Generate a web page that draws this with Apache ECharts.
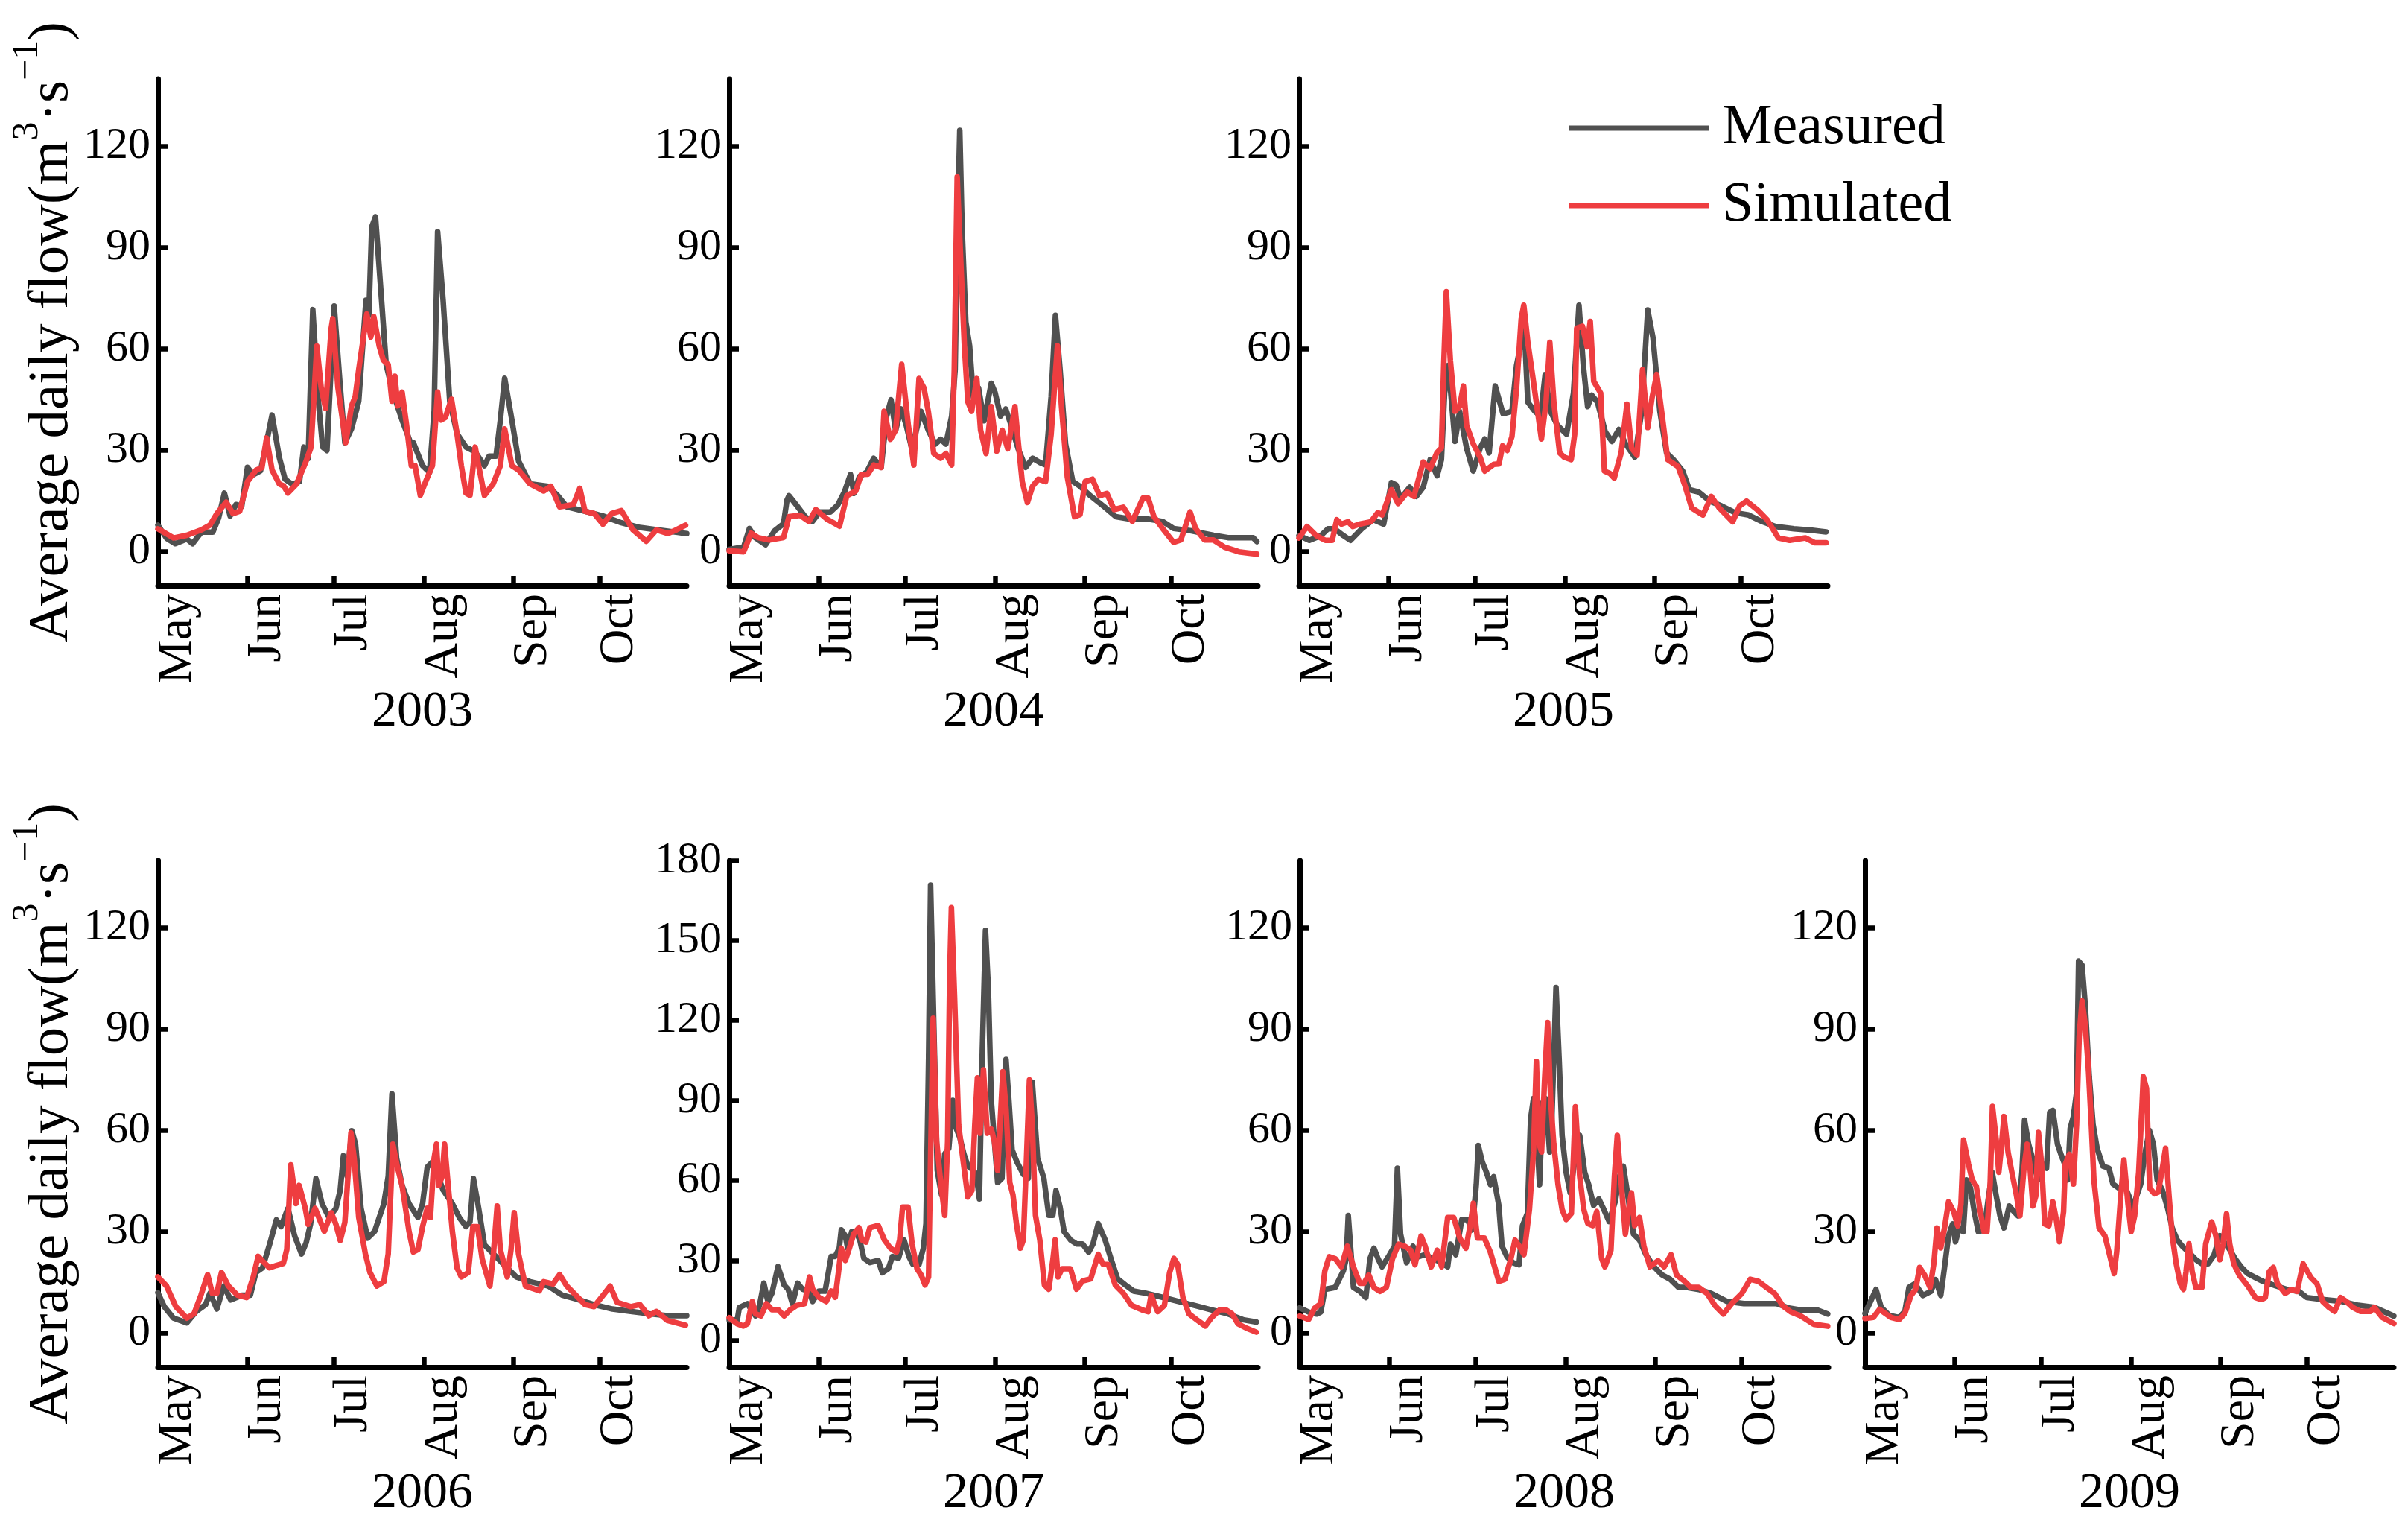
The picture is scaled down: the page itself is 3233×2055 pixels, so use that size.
<!DOCTYPE html>
<html>
<head>
<meta charset="utf-8">
<title>Average daily flow, measured vs simulated</title>
<script src="https://cdn.jsdelivr.net/npm/echarts@6/dist/echarts.min.js"></script>
<style>
  html, body { margin: 0; padding: 0; background: #fff; }
  #chart { width: 3233px; height: 2055px; }
</style>
</head>
<body>
<div id="chart"></div>
<script>
// month names and their first day, counted from 1 May (day 0) to 31 Oct (day 183)
const months = ['May', 'Jun', 'Jul', 'Aug', 'Sep', 'Oct']
const monthStart = [0, 31, 61, 92, 123, 153]
const years = ['2003', '2004', '2005', '2006', '2007', '2008', '2009']
const yTicks = [0, 30, 60, 90, 120]
const yTicks2007 = [0, 30, 60, 90, 120, 150, 180]

// [day from 1 May, flow m3/s]
const measured2003 = [[0,7.9],[3,4],[6,2.4],[10,3.8],[12,2.4],[15,5.8],[19,5.8],[21,10],[23,17.4],[25,10.6],[27,14],[29,13.5],[31,25],[33,22.8],[35.5,24],[37.5,32],[39.5,40.5],[42,28],[44,21.5],[46.5,20],[49,20.8],[50.5,31],[52,27.6],[53.6,71.7],[55.5,45],[57,31],[58.5,30],[61,72.8],[63,50],[64.7,32.3],[67,36.4],[69.5,44.6],[72,74.5],[73,70],[74,96.2],[75.3,99.2],[77.4,74.5],[79,55.4],[81.3,47.3],[84.5,39],[87.7,31.7],[88.4,32.3],[91.6,25.5],[94,23.5],[95.6,41.8],[96.8,94.8],[98.7,74.5],[101,44.6],[103.5,35],[106.6,31],[109.8,29.6],[113,25.5],[114.6,28.3],[117,28.3],[118.5,39],[120,51.4],[122.5,39],[124.8,26.9],[128.8,20.1],[135,19.4],[138.3,16.7],[141.5,13.3],[147.8,12],[154,10.6],[160.4,8.6],[166.8,7.2],[173,6.5],[179.4,5.8],[183,5.4]]
const simulated2003 = [[0,6.8],[5.4,4.1],[10,4.9],[15,6.5],[18,7.9],[20.4,11.3],[23.6,14.7],[26,11.3],[28.3,12],[31,20.8],[34,24.2],[36,24.9],[37.6,33.7],[39.5,24.2],[42,20.1],[43.5,19.5],[45,17.4],[48,20.1],[51,26.2],[53,31],[55,60.9],[56.5,48.6],[58,42.5],[60,66.3],[60.5,69],[62.3,48.6],[65,32.3],[67,43.2],[68.3,46],[69.5,54],[72.3,70.4],[73.7,63.6],[74.7,69.7],[76.6,60.9],[78,56.8],[79.7,55.4],[81,44.6],[82,52],[83,43.2],[84.5,47.3],[86,37.8],[87.7,25.5],[89,25.5],[90.8,16.7],[93,21.5],[95,25.5],[96.8,47.3],[98,39],[99.5,39.8],[101.6,45.2],[103.5,35],[105,25.5],[106.6,17.4],[108,16.7],[109.8,31],[111,25.5],[113,16.7],[116,20.1],[118.5,25.5],[120,36.4],[122.5,25.5],[124.8,24.2],[128.8,20.1],[133.5,18],[136,19.4],[139,13.3],[143.8,14],[146,18.8],[147.8,12],[151,11.3],[154,8.2],[157,11.3],[160.4,12.2],[164.4,6.5],[169,3.1],[172.5,6.5],[176.5,5.4],[179.4,6.5],[182.6,7.9]]

const measured2004 = [[0,0.7],[5,1.4],[7,6.9],[9,4.2],[12.6,2.1],[15.7,6.2],[18.8,8.3],[20,15.3],[20.7,16.6],[23.2,13.9],[26.3,10.4],[28.8,9],[31.3,11.8],[35,11.8],[37.6,13.9],[40,18],[42,22.9],[43.2,17.3],[45,22.2],[47.6,23.6],[50,27.7],[52.6,25],[54.5,40.2],[56,45],[57.6,36],[59.5,42.3],[61.3,37.4],[63.2,30.5],[66.4,41.6],[68.9,36],[71.3,31.9],[73.2,33.3],[75,31.9],[77,40.2],[78.2,54],[79,95.7],[79.8,124.8],[80.6,95.7],[81.9,68],[83.2,61],[84.5,45.8],[86.3,48.5],[88.2,38.8],[90.7,49.9],[92,47.2],[93.9,40.2],[95.7,42.3],[97.6,37.4],[100,30.5],[102.6,25],[105,27.7],[107.6,26.4],[109.5,25.7],[111.4,45.8],[112.9,70],[114.5,54],[116.4,31.9],[118.9,20.8],[121.4,19.4],[125,16.6],[130,13.2],[133.8,10.4],[138.8,9.7],[145,9.7],[150,9],[153.8,6.9],[160,6.2],[167.6,4.9],[172.6,4.2],[181.3,4.2],[182.6,3]]
const simulated2004 = [[0,0.3],[5,0],[7.6,5.5],[10,4.2],[13.9,3.5],[18.8,4.2],[20.7,10.4],[24.5,10.8],[27.6,9],[30,12.5],[33.8,9.7],[38.2,7.6],[40.7,16.6],[43.8,18],[45.7,22.9],[48,23],[50,25.7],[52.6,25],[53.6,41.6],[55.8,33.3],[57.6,36],[59.7,55.5],[62,37.4],[63.9,25.7],[65.7,51.3],[67.4,48.5],[68.9,41.6],[70.8,29.1],[73.2,27.7],[75,29.1],[77,25.7],[77.9,54],[78.9,111],[80,88.8],[81.4,61],[82.6,44.4],[83.9,41.6],[85.7,51.3],[87,36],[88.9,29.1],[90.7,43],[92.6,29.8],[94.5,36],[96.4,30.5],[98.9,43],[100.1,31.9],[101.4,20.8],[103.2,14.6],[105,19.4],[107,21.5],[109.5,20.8],[111.4,34.7],[113.6,61],[115,43],[117,22.2],[119.5,10.4],[121.4,11],[123.2,20.8],[125.7,21.5],[128.2,16.6],[130.7,17.3],[133.2,12.5],[136.4,13.2],[139.5,9],[143.2,15.9],[145,15.9],[147,10.4],[150,6.9],[153.8,2.8],[156.3,3.5],[159.5,11.8],[161.4,6.9],[164.5,3.5],[167.6,3.5],[171.4,1.4],[176.4,0],[182.6,-0.7]]

const measured2005 = [[0,4.8],[3.6,3.4],[7.6,4.8],[10,6.8],[12.3,6.8],[15.4,4.8],[17.8,3.4],[21.7,6.8],[25.7,9.5],[29.3,8.2],[32,20.5],[33.6,19.8],[35.1,15.7],[38.3,19.1],[40.6,16.4],[43,19.1],[45.4,27.3],[47.8,22.5],[49.3,27.3],[50.4,47],[51.7,55.2],[54,32.7],[55.6,41.6],[58,30.7],[60.3,23.9],[62.7,30.7],[64.3,33.4],[65.8,29.3],[67.9,49.1],[70.6,40.9],[73.7,41.6],[75.3,55.2],[76.9,62],[78,66],[79.2,44.3],[81.6,41.6],[83.6,40.2],[85.2,52.5],[87,41.6],[89.4,37.5],[92.6,34.8],[95,47],[96.9,73],[98.4,55.2],[99.9,43],[101.3,46.4],[103.3,44.3],[106,35.5],[108.3,32.7],[110.7,36.2],[113,32],[116.2,28],[118.6,41.6],[120.7,71.6],[122.5,63.4],[124.9,41.6],[127.2,29.3],[129.6,27.3],[132.8,23.9],[135.1,18.4],[138.3,17.7],[142.2,15],[146.2,13.6],[150.9,11.6],[155.6,10.9],[160.4,8.9],[165,7.5],[171.3,6.8],[177.6,6.4],[182.4,5.9]]
const simulated2005 = [[0,4.1],[2.8,7.5],[6,4.8],[9.1,3.4],[11.5,3.4],[13.1,9.5],[14.7,8.2],[17,8.9],[18.6,7.5],[21,8.2],[24.9,8.9],[27.3,11.6],[28.8,10.9],[32,18.4],[34.3,14.3],[37.5,17.7],[39.8,16.4],[43,26.6],[45.4,24.6],[47.7,29.3],[49.3,30.7],[50.1,55.2],[51,77],[52.4,56.6],[54,41.6],[55.6,43],[56.9,49.1],[58,37.5],[60.3,32],[62.7,28],[64.3,23.9],[67.4,25.9],[69.2,26],[70.5,31.4],[72.1,30],[73.7,34.1],[75.3,48.4],[76.9,68.9],[77.8,73],[79.2,62],[80.8,52.5],[82.8,40.2],[83.9,33.4],[85.5,44.3],[86.8,62],[88.2,44.3],[90.2,29.3],[91.8,28],[94.2,27.3],[95.4,34.8],[96.1,66.2],[98.1,66.8],[99.7,60.7],[100.8,68.2],[102,50.5],[104.4,47],[105.7,23.9],[107.6,23.2],[109.1,21.8],[111.5,29.3],[113.5,43.7],[115.1,30.7],[117,28.6],[118.9,53.9],[120.7,36.8],[122.2,45.7],[123.8,52.5],[125.7,40.2],[127.6,27.3],[131.2,25.2],[133.5,19.8],[135.9,13],[139.8,10.9],[142.7,16.4],[145.4,13],[150.1,8.9],[152.5,13.6],[154.9,15],[158.8,12.3],[162,9.5],[165.9,4.1],[169.8,3.4],[175.3,4.1],[178.4,2.7],[182.4,2.7]]

const measured2006 = [[0,12],[2.2,7.9],[5.4,4.5],[10,3.1],[13.3,6.5],[16.5,8.5],[18,11.9],[20.4,7.2],[22.8,14],[25.2,9.9],[29.1,11.3],[32,11.3],[33.9,18],[36.2,19.4],[38.6,26.2],[41,33.6],[42.6,31.6],[45,37],[47.3,28.9],[49.7,23.5],[51.3,26.8],[52.8,32.3],[54.7,45.8],[56.8,38.4],[59.2,34.3],[61.6,37],[63.1,42.4],[64.2,52.6],[65.5,46.5],[67.1,60],[68.4,56],[70.3,37],[72.6,28.2],[75,30.2],[76.6,34.3],[78.2,38.4],[79.7,46.5],[81,70.9],[82.6,51.9],[84.5,43.8],[86.9,38.4],[90,34.3],[91.6,38.4],[93.2,49.2],[94.8,50.6],[96.4,47.9],[98.7,42.4],[101.9,38.4],[104.3,34.3],[106.6,31.6],[108,33],[109.2,45.8],[111,37],[113,26.2],[116.1,23.5],[119.3,20.7],[124,16.7],[128.8,15.3],[135.1,14],[139.9,11.3],[144.6,10.2],[150.9,8.5],[157.3,7.2],[163.6,6.5],[169.9,5.8],[176.3,5.2],[183,5.2]]
const simulated2006 = [[0,16.7],[3,14],[6.2,7.9],[10,4.5],[12.5,5.8],[14.9,11.3],[17.2,17.4],[18.8,11.9],[20.4,11.9],[22,18],[24.4,14],[27.5,11.3],[30.7,10.6],[33,16.7],[34.7,22.8],[36.2,21.4],[38.6,19.4],[41,20.1],[43.4,20.7],[44.6,24.8],[46,49.9],[47.8,38.4],[48.9,43.8],[51,37],[52,32.3],[54.4,37],[57.6,30.2],[60,35.7],[61.6,32.3],[63.1,27.5],[64.7,32.9],[66.8,59.4],[67.9,51.9],[69.5,34.3],[71.8,23.5],[73.4,18],[75.8,14],[78.2,15.3],[79.7,23.5],[81.3,56],[82.9,49.2],[84.5,43.8],[86.9,30.2],[88.4,24.1],[90,24.8],[91.6,31.6],[93.2,37],[94.3,34.3],[95.6,51.9],[96.4,56],[97.2,43.8],[98.4,46.5],[99.2,56],[100.3,45.2],[101.9,30.2],[103.5,19.4],[105,16.7],[107.4,18],[109,31.6],[110.6,31.6],[112.2,22.1],[114.9,14],[116.1,23.5],[117.4,37.7],[118.5,24.8],[120.9,16.7],[122.2,24.8],[123.3,35.7],[124.8,23.5],[127.2,14],[132,12.6],[133.5,15.3],[136.7,14.6],[139,17.4],[141.5,14],[144.6,11.3],[147.8,8.5],[150.9,7.9],[154.1,11.3],[156.5,14],[158.9,9.2],[163.6,7.9],[166.8,8.5],[169.9,5.2],[172.5,6.5],[176.3,3.8],[182.6,2.4]]

const measured2007 = [[0,7.7],[2.8,7.7],[3.5,12.3],[6.3,13.8],[9.1,9.2],[10.5,13.1],[12,21.5],[13.4,14.6],[14.8,17.7],[16.9,27.7],[19,20.8],[20.4,19.2],[21.9,13.8],[23.7,21.5],[25.4,19.2],[27.5,18.5],[28.9,14.6],[31,18.5],[33.2,18.5],[35.3,31.5],[36.7,31.5],[38.1,34.6],[38.8,41.5],[40.2,39.2],[41,34.6],[42.4,40.8],[43.8,40.8],[45.2,37.7],[46.6,30.8],[48.7,29.2],[51.6,30],[53,25.4],[55.1,26.9],[56.5,31.5],[58.6,30.8],[60.5,37.7],[62.2,31.5],[63.6,28.5],[65.7,28.5],[67.2,34.6],[68.1,43.8],[69,105.4],[69.7,170.8],[70.6,128.5],[72,63.8],[73.5,54.6],[74.6,70],[76,72],[77.4,90],[78.4,80],[79.8,76.2],[81.2,70],[82.6,65.4],[84.5,63.8],[85.5,62.3],[86.6,53.1],[87.6,108.5],[88.7,153.8],[89.7,131.5],[90.7,90],[91.8,74.6],[92.9,59.2],[94.4,60.8],[95.8,105.4],[96.8,90],[97.9,71.5],[99.6,66.9],[101.8,62.3],[103.5,60.8],[104.9,96.9],[106.7,68.5],[108.9,60.8],[110.6,46.9],[112,46.9],[113.1,56.2],[114.5,50],[115.9,40.8],[118.1,37.7],[120.2,36.2],[122.3,36.2],[124.4,33.1],[125.9,36.2],[127.7,43.8],[130.1,37.7],[132.3,30],[134.4,23.1],[137.1,20.8],[140,18.5],[144.2,17.7],[149.9,16.2],[155.5,14.6],[161.2,13.1],[166.8,11.5],[172.5,10],[178.1,7.7],[182.4,6.9]]
const simulated2007 = [[0,8.5],[2.8,6.2],[4.9,5.4],[6.3,6.2],[8,14.6],[9.1,10],[11,9.2],[12.9,13.8],[14.8,11.5],[17,11.5],[19,9.2],[21.1,11.5],[23.3,13.1],[26.1,13.8],[27.8,23.8],[28.9,19.2],[31,16.2],[33.6,14.6],[35.3,18.5],[36.7,16.2],[37.8,25.4],[38.8,34.6],[40.2,30],[41.6,34.6],[43.1,40],[44.9,42.3],[45.9,37.7],[47.3,36.9],[48.7,42.3],[51.6,43.1],[53.7,37.7],[55.8,34.6],[57.9,33.1],[59,37.7],[60,50],[61.9,50],[63.3,36.2],[65,26.9],[66.4,24.6],[67.8,20.8],[69,23.8],[69.8,74.6],[70.6,120.8],[71.8,74.6],[73.2,59.2],[74.6,46.9],[75.6,74.6],[76.3,136.2],[76.9,162.3],[78,128.5],[79.4,80.8],[81.2,65.4],[82.6,53.8],[84,56.2],[85,80.8],[85.9,98.5],[86.8,77.7],[88,101.5],[89.3,77.7],[90.7,79.2],[91.8,74.6],[92.9,63.8],[94.7,100.8],[95.8,86.9],[97.1,59.2],[98.2,54.6],[99.4,43.8],[100.8,34.6],[101.8,37.7],[102.9,68.5],[103.9,97.7],[104.9,80.8],[106,46.9],[107.5,37.7],[109.1,20.8],[110.6,19.2],[112,30],[112.8,37.7],[113.8,23.8],[115.2,26.9],[116.6,26.9],[118.1,26.9],[120.2,19.2],[122.3,22.3],[125.1,23.1],[127.7,32.3],[129.4,28.5],[131.2,28.5],[133.6,20.8],[136.4,17.7],[139.3,13.1],[142.8,11.5],[145,10.8],[146,16.9],[148.3,10.8],[150.6,13.1],[152.4,25.4],[153.9,30.8],[155.2,28.5],[157,16.2],[159.1,10],[161.9,7.7],[164.8,5.4],[166.9,8.5],[169.8,11.5],[171.9,11.5],[174,10],[176.1,6.2],[179,4.6],[182.4,3.1]]

const measured2008 = [[0,7.5],[3.1,6.3],[5.9,5.7],[7.3,6.3],[8.7,13],[12.3,13.6],[15.1,18.5],[16.1,22.1],[16.8,34.9],[17.9,22.1],[18.6,13.6],[20.8,12.4],[22.9,10.6],[24.3,22.1],[25.7,25.2],[27.1,22.1],[28.5,19.7],[30.7,22.7],[32.8,25.8],[33.8,48.9],[34.9,29.4],[37,20.9],[39.2,25.8],[41.2,22.7],[43.4,23.3],[46.2,22.1],[49.1,20.9],[51.2,19.7],[52.2,26.4],[54,23.3],[56.1,33.7],[58,33.7],[59.7,30.6],[61.1,44],[61.8,55.6],[63.2,50.7],[64.6,47.7],[66,44],[67.1,46.4],[68.9,37.9],[70,25.8],[71.7,22.7],[73.8,20.9],[75.9,20.3],[77.1,31.9],[78.8,35.5],[79.9,63.5],[80.9,69.5],[81.9,62.2],[83,44],[84.1,68.3],[85.1,69.5],[86.5,53.7],[87.2,62.2],[87.9,80.5],[88.7,102.4],[89.8,80.5],[90.8,58.6],[92.2,47.7],[93.6,41.6],[95,50.1],[96.9,58.6],[98.6,47.7],[100,44],[101.7,37.9],[103.5,39.8],[104.9,37.3],[107.1,33.1],[109.2,39.1],[110.6,46.4],[112,49.5],[113.4,41.6],[115.5,29.4],[117.6,27.6],[119.8,23.3],[122.6,19.7],[125.4,17.3],[128.2,16],[131.1,13.6],[133.9,13.6],[138.1,13],[142.4,11.8],[145.2,10.6],[148,9.4],[153.7,8.8],[159.4,8.8],[165,8.8],[169.3,7.5],[173.5,6.9],[179.2,6.9],[182.7,5.7]]
const simulated2008 = [[0,5.1],[3.1,4.1],[5.2,7.5],[7.3,8.8],[8.7,18.5],[10.2,22.7],[12.3,22.1],[14.4,19.7],[16.5,25.8],[18.6,19.7],[20.8,14.8],[22.2,14.8],[23.9,17.3],[25.7,13.6],[27.8,12.4],[30,13.6],[32.1,22.1],[34.2,26.4],[36.4,25.8],[38.4,24.6],[39.9,20.3],[42,28.8],[43.4,25.8],[45.5,19.7],[47.6,24.6],[49.1,19.7],[51.2,34.3],[53.3,34.3],[55.4,28.2],[57.5,25.2],[59,31.9],[60.1,38.5],[61.5,28.2],[63.9,28.2],[66,24],[68.9,15.4],[71,16],[73.1,22.1],[74.5,27.6],[76,25.8],[77.6,23.3],[79.5,36.7],[80.9,53.7],[81.9,80.5],[82.8,56.2],[83.7,53.7],[84.7,74.4],[85.8,92],[86.9,68.3],[87.9,56.2],[89.4,44],[90.8,36.7],[92.2,33.7],[94,35.5],[95.4,67.1],[96.9,46.4],[98.3,36.7],[99.7,32.5],[101.4,31.9],[102.8,36.1],[104.5,22.1],[105.6,19.7],[107.7,24.6],[108.9,46.4],[109.9,58.6],[111.3,44],[112.7,29.4],[113.8,36.7],[114.8,41.6],[115.9,31.9],[117.6,34.3],[119.1,25.8],[121.2,19.7],[124,21.5],[126.1,19.7],[128.5,23.3],[130.4,17.3],[133.2,15.4],[135.3,13.6],[138.1,13.6],[141,11.8],[143.8,8.1],[146.6,5.7],[149.5,8.8],[153,11.8],[155.9,16],[158.7,15.4],[161.5,13.6],[164.4,11.8],[167.2,8.1],[170,6.3],[173.5,5.1],[177.8,2.7],[182.7,2.1]]

const measured2009 = [[0,5.9],[2.2,10],[3.8,13],[5.6,7.7],[8.4,5.3],[11.8,4.7],[13.8,6.5],[15.2,13.6],[17.3,14.7],[20,11.2],[22.8,12.4],[24.4,15.9],[26.2,11.2],[27.5,19.5],[28.9,28.9],[30.3,32.4],[31.3,27.1],[32.6,31.2],[34,30.1],[35.1,45.4],[36.5,43],[37.8,36],[39.2,30.1],[41.2,30.6],[42.6,39.5],[44,47.7],[45.4,40.7],[46.7,34.8],[48.1,31.2],[49.9,37.7],[51.6,36],[52.9,34.8],[54.3,47.7],[55.2,63.1],[56.6,56],[58.1,51.3],[59.8,45.4],[61.5,50.1],[62.8,48.9],[63.9,65.4],[65,66],[66.6,56],[68,52.5],[69.1,50.1],[70.1,45.4],[71,60.7],[72.1,64.2],[73.2,71.3],[73.9,110.2],[75.1,109],[76.2,97.3],[77.6,76],[78.9,61.9],[80.3,54.8],[82.3,49.5],[84.4,48.9],[85.8,44.2],[87.8,43],[89.6,44.2],[91.3,40.7],[92.6,37.1],[94,40.7],[95.4,44.2],[96.7,52.5],[98.4,60.1],[99.8,56],[101.1,45.4],[102.9,42.4],[104.7,37.1],[106.3,31.2],[108,27.7],[109.7,25.9],[111.8,24.2],[114.5,21.8],[116.6,20.6],[118.7,20.6],[120.7,23],[122.8,28.9],[124.2,27.1],[126.2,24.8],[128.3,21.8],[130.3,19.5],[132.4,17.7],[135.1,16.5],[137.9,15.3],[142,14.1],[146.1,13],[150.2,12.4],[152.9,10.6],[158.4,10],[165.3,9.4],[170.7,8.3],[176.2,7.7],[183,5.1]]
const simulated2009 = [[0,4.4],[2.9,4.7],[5,7.1],[7,5.9],[9,4.7],[11.8,4.1],[13.8,5.9],[15.9,11.2],[17.5,13],[18.9,19.5],[20.7,17.1],[22.5,13.6],[23.8,20.6],[24.9,31.2],[26.2,25.3],[27.5,31.2],[28.9,38.9],[30.7,36],[32.1,31.8],[33.2,38.3],[34.1,57.2],[35.8,50.1],[37.1,45.4],[38.5,43.6],[39.9,36],[41.2,30.1],[42.2,30.1],[43.3,44.2],[44.1,67.2],[45.4,57.2],[46.3,47.7],[47,53.6],[48.1,64.2],[49.5,53.6],[50.8,47.7],[52.2,41.8],[53.6,34.8],[55,48.9],[56.1,56],[57,50.1],[58.1,37.7],[59.1,40.7],[60,59.5],[61.1,50.1],[62.2,32.4],[63.6,31.8],[65,38.9],[66.2,33.6],[67.3,27.1],[68.7,36],[69.3,50.1],[70.7,53],[72.1,44.2],[73.2,61.9],[74.1,87.8],[75.1,98.4],[76.2,91.4],[77.3,78.4],[78.3,61.9],[79.2,45.4],[81,31.2],[83,28.9],[84.7,23],[86.2,17.7],[87.1,24.2],[88.5,40.7],[89.6,51.3],[91,38.3],[92.1,30.1],[93.3,34.8],[94.7,47.7],[95.8,66.6],[96.3,76],[97.4,72.5],[98.5,43],[100.2,41.3],[101.5,41.8],[102.9,48.9],[104,54.8],[105.2,40.7],[106.3,28.9],[107.7,20.6],[109.1,14.7],[110.2,13],[111.1,18.3],[112.1,26.5],[113.2,18.3],[114.5,13.6],[116.6,13.6],[117.9,26.5],[120,33],[121.4,28.9],[122.8,21.8],[123.9,26.5],[125.1,35.4],[126.2,26.5],[127.6,20.6],[129.6,17.1],[132.4,14.1],[135.1,10.6],[137.2,10],[138.5,10.6],[139.9,18.3],[141.3,19.5],[142.7,14.7],[145.4,11.8],[147.5,13],[149.5,12.4],[151.6,20.6],[154.3,16.5],[156.4,14.7],[158.4,9.4],[160.5,7.7],[162.5,6.5],[164.6,10.6],[166.6,9.4],[168.7,7.7],[171.4,6.5],[174.9,6.5],[176.2,7.7],[179,4.7],[183,2.9]]

const measured = [measured2003, measured2004, measured2005, measured2006, measured2007, measured2008, measured2009]
const simulated = [simulated2003, simulated2004, simulated2005, simulated2006, simulated2007, simulated2008, simulated2009]

// layout (px) - left/top of each plot box, same order as years
const panelPos = [[212, 106], [979, 106], [1744, 106], [212, 1155], [979, 1155], [1745, 1155], [2504, 1155]]
const GRID_W = 710
const GRID_H = 680
const LABEL_SHIFT = 6.8 // month labels sit a little right of the month tick
const FONT = 'Liberation Serif'
const GRAY = '#505050'
const RED = '#ee3d40'
const LINE_W = 7.5

const yTitle = '{a|Average daily flow(m}{s|3}{a|·s}{s|−1}{a|)}'

const grid = []
const xAxis = []
const yAxis = []
const series = []

years.forEach((year, i) => {
  const ticks = year === '2007' ? yTicks2007 : yTicks
  const yMax = year === '2007' ? 180 : 140

  grid.push({
    left: panelPos[i][0],
    top: panelPos[i][1],
    width: GRID_W,
    height: GRID_H,
    containLabel: false
  })

  xAxis.push({
    type: 'value',
    gridIndex: i,
    min: 0,
    max: 183,
    name: year,
    nameLocation: 'middle',
    nameGap: 136,
    nameTextStyle: { fontFamily: FONT, fontSize: 68, color: '#000' },
    splitLine: { show: false },
    axisLine: { onZero: false, lineStyle: { color: '#000', width: 7 } },
    axisTick: {
      show: true,
      inside: true,
      length: 13,
      customValues: monthStart.slice(1),
      lineStyle: { color: '#000', width: 6.5 }
    },
    axisLabel: {
      rotate: 90,
      margin: 11,
      fontFamily: FONT,
      fontSize: 66,
      color: '#000',
      customValues: monthStart.map(d => d + LABEL_SHIFT),
      formatter: (v) => {
        const k = monthStart.findIndex(d => Math.abs(d + LABEL_SHIFT - v) < 0.01)
        return k >= 0 ? months[k] : ''
      }
    }
  })

  const showTitle = i === 0 || i === 3
  yAxis.push({
    type: 'value',
    gridIndex: i,
    min: -10,
    max: yMax,
    name: showTitle ? yTitle : '',
    nameLocation: 'middle',
    nameRotate: 90,
    nameGap: 103,
    nameTextStyle: {
      fontFamily: FONT,
      fontSize: 77,
      color: '#000',
      rich: {
        a: { fontFamily: FONT, fontSize: 77, lineHeight: 96, verticalAlign: 'bottom', color: '#000' },
        s: { fontFamily: FONT, fontSize: 50, lineHeight: 52, verticalAlign: 'top', color: '#000' }
      }
    },
    splitLine: { show: false },
    axisLine: { show: true, onZero: false, lineStyle: { color: '#000', width: 7 } },
    axisTick: {
      show: true,
      inside: true,
      length: 13,
      customValues: ticks,
      lineStyle: { color: '#000', width: 6.5 }
    },
    axisLabel: {
      margin: 10,
      fontFamily: FONT,
      fontSize: 60,
      color: '#000',
      customValues: ticks
    }
  })

  series.push({
    name: 'Measured',
    type: 'line',
    xAxisIndex: i,
    yAxisIndex: i,
    data: measured[i],
    showSymbol: false,
    symbol: 'none',
    color: GRAY,
    itemStyle: { color: GRAY },
    lineStyle: { color: GRAY, width: LINE_W, join: 'round', cap: 'round' },
    z: 2
  })
  series.push({
    name: 'Simulated',
    type: 'line',
    xAxisIndex: i,
    yAxisIndex: i,
    data: simulated[i],
    showSymbol: false,
    symbol: 'none',
    color: RED,
    itemStyle: { color: RED },
    lineStyle: { color: RED, width: LINE_W, join: 'round', cap: 'round' },
    z: 3
  })
})

const chart = echarts.init(document.getElementById('chart'), null, { renderer: 'canvas' })
chart.setOption({
  backgroundColor: '#fff',
  animation: false,
  textStyle: { fontFamily: FONT },
  legend: {
    data: [{ name: 'Measured', icon: 'rect' }, { name: 'Simulated', icon: 'rect' }],
    orient: 'vertical',
    left: 2101,
    top: 127,
    itemWidth: 188,
    itemHeight: 7,
    itemGap: 24,
    selectedMode: false,
    textStyle: { fontFamily: FONT, fontSize: 76, color: '#000', lineHeight: 80, padding: [0, 0, 0, 13] }
  },
  grid: grid,
  xAxis: xAxis,
  yAxis: yAxis,
  series: series
})
</script>
</body>
</html>
